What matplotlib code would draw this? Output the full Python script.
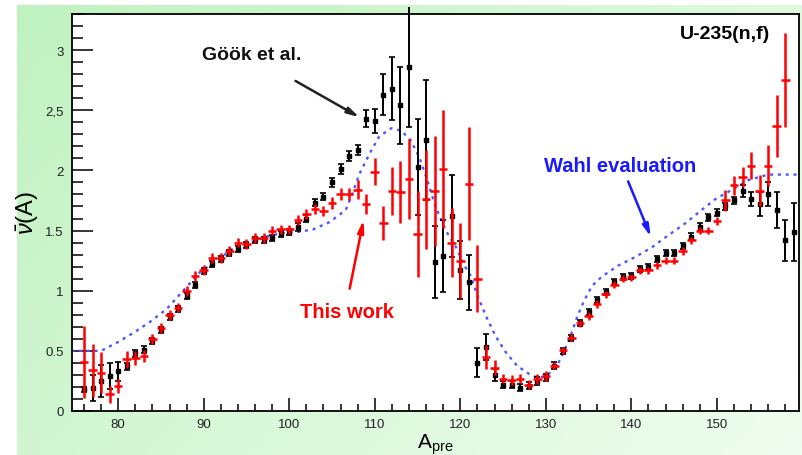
import matplotlib
matplotlib.use("Agg")
import matplotlib.pyplot as plt
import numpy as np
from matplotlib.ticker import MultipleLocator, FixedLocator

plt.rcParams["font.family"] = ["Liberation Sans", "DejaVu Sans"]
plt.rcParams["mathtext.fontset"] = "custom"
plt.rcParams["mathtext.rm"] = "Liberation Sans"
plt.rcParams["mathtext.it"] = "Liberation Sans:italic"

# This work (red crosses)
a_red = list(range(76, 159))
v_red = [0.41, 0.34, 0.32, 0.14, 0.21, 0.43, 0.44, 0.46, 0.60, 0.69,
         0.80, 0.86, 1.00, 1.12, 1.17, 1.27, 1.27, 1.33, 1.40, 1.39,
         1.44, 1.44, 1.50, 1.51, 1.51, 1.59, 1.64, 1.68, 1.66, 1.73,
         1.80, 1.80, 1.84, 1.72, 1.99, 1.56, 1.83, 1.82, 1.93, 1.47,
         1.76, 1.83, 2.01, 1.40, 1.25, 1.89, 1.10, 0.45, 0.36, 0.27,
         0.26, 0.27, 0.22, 0.265, 0.29, 0.375, 0.505, 0.61, 0.73, 0.79,
         0.89, 0.97, 1.05, 1.10, 1.11, 1.17, 1.17, 1.21, 1.25, 1.25,
         1.33, 1.42, 1.50, 1.50, 1.58, 1.75, 1.875, 1.945, 2.04, 1.83,
         2.04, 2.37, 2.75]
e_red = [0.30, 0.22, 0.17, 0.07, 0.06, 0.07, 0.06, 0.05, 0.04, 0.04,
         0.04, 0.04, 0.04, 0.04, 0.04, 0.04, 0.04, 0.04, 0.04, 0.04,
         0.04, 0.04, 0.04, 0.04, 0.04, 0.04, 0.04, 0.04, 0.04, 0.05,
         0.05, 0.05, 0.08, 0.08, 0.11, 0.14, 0.20, 0.26, 0.33, 0.36,
         0.41, 0.46, 0.49, 0.29, 0.31, 0.47, 0.28, 0.10, 0.06, 0.04,
         0.04, 0.04, 0.04, 0.04, 0.04, 0.03, 0.03, 0.03, 0.03, 0.03,
         0.03, 0.03, 0.03, 0.03, 0.03, 0.03, 0.03, 0.03, 0.03, 0.03,
         0.03, 0.03, 0.03, 0.03, 0.03, 0.09, 0.08, 0.08, 0.11, 0.13,
         0.17, 0.26, 0.39]

# Gook et al. (black points)
a_gook = list(range(76, 160))
v_gook = [0.18, 0.19, 0.25, 0.29, 0.33, 0.37, 0.48, 0.51, 0.58, 0.67,
          0.78, 0.85, 0.96, 1.05, 1.16, 1.22, 1.26, 1.31, 1.35, 1.38,
          1.42, 1.42, 1.44, 1.47, 1.49, 1.53, 1.60, 1.73, 1.78, 1.90,
          2.01, 2.12, 2.17, 2.43, 2.41, 2.63, 2.68, 2.54, 2.86, 2.03,
          2.25, 1.24, 1.29, 1.62, 1.17, 1.07, 0.40, 0.53, 0.30, 0.22,
          0.22, 0.195, 0.21, 0.25, 0.28, 0.375, 0.50, 0.61, 0.73, 0.825,
          0.92, 0.99, 1.07, 1.11, 1.125, 1.18, 1.20, 1.26, 1.31, 1.31,
          1.375, 1.45, 1.53, 1.61, 1.65, 1.70, 1.75, 1.83, 1.76, 1.72,
          1.80, 1.67, 1.42, 1.49]
e_gook = [0.02, 0.11, 0.13, 0.11, 0.08, 0.03, 0.03, 0.03, 0.025, 0.025,
          0.025, 0.025, 0.025, 0.025, 0.025, 0.025, 0.025, 0.025, 0.025, 0.025,
          0.025, 0.025, 0.025, 0.025, 0.025, 0.03, 0.03, 0.03, 0.03, 0.04,
          0.04, 0.04, 0.04, 0.07, 0.10, 0.17, 0.26, 0.32, 0.50, 0.40,
          0.50, 0.30, 0.30, 0.34, 0.24, 0.23, 0.12, 0.11, 0.05, 0.03,
          0.03, 0.03, 0.03, 0.03, 0.03, 0.03, 0.025, 0.025, 0.025, 0.025,
          0.025, 0.025, 0.025, 0.025, 0.025, 0.025, 0.025, 0.025, 0.025, 0.025,
          0.025, 0.03, 0.03, 0.03, 0.03, 0.03, 0.03, 0.05, 0.06, 0.10,
          0.10, 0.15, 0.17, 0.24]

# Wahl evaluation (blue dotted curve)
a_wahl = [74.5, 76, 78, 79.9, 81.8, 83.7, 85.7, 87.6, 89.5, 91.5,
          93.4, 95.4, 97.3, 99.3, 101.2, 102.8, 104.7, 106.6, 107.4, 108.2,
          109.4, 110.5, 111.9, 113.1, 114.2, 115.2, 116, 117.1, 118.3, 119.5,
          120.6, 121.2, 122, 123, 124.1, 125.3, 126.65, 128, 129.2, 130.35,
          131.3, 132.1, 132.9, 133.65, 134.5, 135.4, 136.6, 138.5, 140.45, 142.4,
          144.3, 146.3, 148.2, 149.8, 151.3, 153.7, 156, 158.3, 159.6]
v_wahl = [0.5, 0.5, 0.5, 0.57, 0.65, 0.74, 0.85, 1.0, 1.15, 1.25,
          1.35, 1.40, 1.45, 1.48, 1.49, 1.51, 1.57, 1.67, 1.81, 1.97,
          2.14, 2.28, 2.35, 2.33, 2.25, 2.11, 1.95, 1.70, 1.50, 1.36,
          1.195, 1.125, 0.96, 0.79, 0.625, 0.49, 0.375, 0.31, 0.27, 0.31,
          0.375, 0.49, 0.625, 0.78, 0.92, 1.04, 1.12, 1.21, 1.28, 1.36,
          1.46, 1.56, 1.67, 1.76, 1.82, 1.92, 1.965, 1.965, 1.965]

y_ticks = [0, 0.5, 1, 1.5, 2, 2.5, 3]
y_tick_labels = ["0", "0.5", "1", "1.5", "2", "2,5", "3"]
x_ticks = [80, 90, 100, 110, 120, 130, 140, 150]

W, H = 802, 456
fig = plt.figure(figsize=(W / 100, H / 100), dpi=100)

# green gradient backdrop
bg = fig.add_axes([17 / W, 0, (W - 17) / W, (H - 6) / H], zorder=-10)
gx, gy = np.meshgrid(np.linspace(0, 1, 200), np.linspace(0, 1, 120))
t = np.clip(0.65 * gx + 0.35 * gy, 0, 1)
c0 = np.array([192, 242, 192]) / 255
c1 = np.array([240, 253, 240]) / 255
img = c0[None, None, :] + (c1 - c0)[None, None, :] * t[:, :, None]
bg.imshow(img, aspect="auto", extent=[0, 1, 1, 0])
bg.set_axis_off()

ax = fig.add_axes([72 / W, (H - 412) / H, (799 - 72) / W, (412 - 15) / H])
ax.set_facecolor("white")

ax.plot(a_wahl, v_wahl, color="#4d58ff", lw=1.7, linestyle=(0, (1.3, 2.0)), zorder=2)

blk = ax.errorbar(a_gook, v_gook, yerr=e_gook, fmt="s", ms=3, color="black",
                  ecolor="black", elinewidth=1.4, capsize=2, capthick=1.2, zorder=3)
for part in blk.lines[2]:
    part.set_clip_on(False)

ax.errorbar(a_red, v_red, xerr=0.5, yerr=e_red, fmt="none", ecolor="#ff0000",
            elinewidth=1.8, capsize=0, zorder=4)

ax.set_xlim(74.6, 159.6)
ax.set_ylim(0, 3.3)
ax.xaxis.set_major_locator(FixedLocator(x_ticks))
ax.xaxis.set_minor_locator(MultipleLocator(2))
ax.yaxis.set_major_locator(FixedLocator(y_ticks))
ax.yaxis.set_minor_locator(MultipleLocator(0.1))
ax.set_yticklabels(y_tick_labels)
ax.tick_params(axis="y", which="major", direction="in", length=15, width=1.1,
               labelsize=9.5, pad=6, labelcolor="#222222")
ax.tick_params(axis="y", which="minor", direction="in", length=8, width=1.1)
ax.tick_params(axis="x", which="major", direction="in", length=9.5, width=1.1,
               labelsize=9.5, pad=5, labelcolor="#222222")
ax.tick_params(axis="x", which="minor", direction="in", length=5, width=1.1)
for s in ax.spines.values():
    s.set_linewidth(1.3)

ax.set_xlabel(r"A$_{\mathrm{pre}}$", fontsize=15, labelpad=1)
ax.set_ylabel(r"$\bar{\nu}$(A)", fontsize=17, labelpad=3)

ax.text(156.2, 3.137, "U-235(n,f)", fontsize=14, fontweight="bold",
        ha="right", va="center")
ax.text(95.66, 2.96, "Göök et al.", fontsize=14, fontweight="bold",
        ha="center", va="center", color="#111111")
ax.annotate("", xy=(108.5, 2.43), xytext=(100.45, 2.755),
            arrowprops=dict(arrowstyle="-|>,head_length=0.7,head_width=0.18",
                            color="#222222", lw=1.8))
ax.text(106.76, 0.83, "This work", fontsize=14.5, fontweight="bold",
        ha="center", va="center", color="#ff0000")
ax.annotate("", xy=(108.75, 1.61), xytext=(107.0, 0.995),
            arrowprops=dict(arrowstyle="-|>,head_length=0.7,head_width=0.18",
                            color="#ff0000", lw=1.8))
ax.text(138.67, 2.04, "Wahl evaluation", fontsize=14.5, fontweight="bold",
        ha="center", va="center", color="#1a1aff")
ax.annotate("", xy=(142.4, 1.427), xytext=(139.5, 1.93),
            arrowprops=dict(arrowstyle="-|>,head_length=0.7,head_width=0.18",
                            color="#1a1aff", lw=1.8))

fig.savefig("out.png", dpi=100)
